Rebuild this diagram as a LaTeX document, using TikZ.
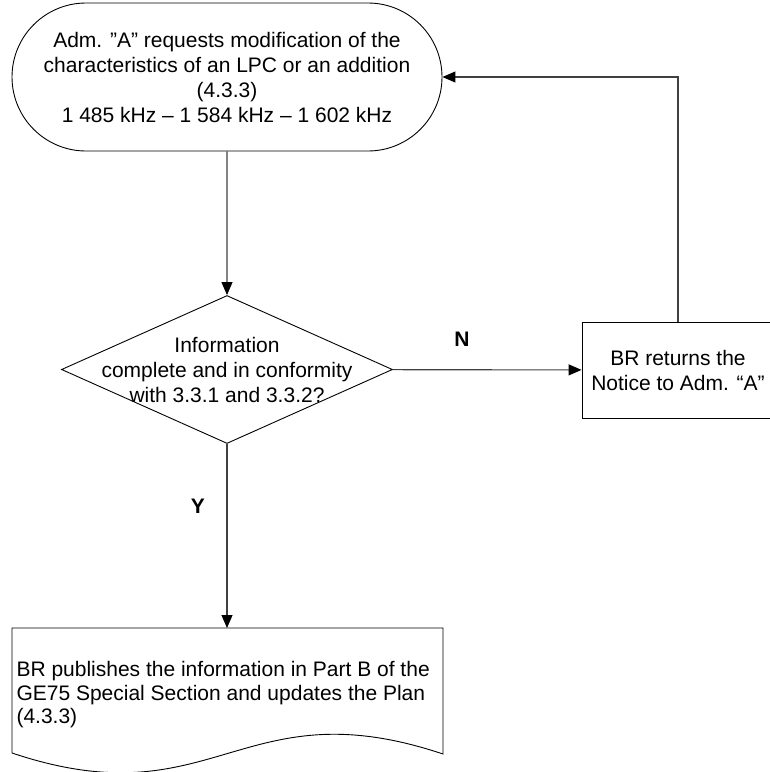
\documentclass[tikz,border=0pt]{standalone}
\usepackage{fontspec}
\setmainfont{Liberation Sans}
\usetikzlibrary{shapes.geometric,shapes.misc,arrows.meta}
\begin{document}
\begin{tikzpicture}[x=1pt,y=-1pt,
  every node/.style={font=\fontsize{21}{25}\selectfont},
  term/.style={draw,line width=0.9pt,rounded rectangle,minimum width=430pt,minimum height=148pt,inner sep=0pt,align=center},
  decision/.style={draw,line width=0.9pt,diamond,minimum width=331pt,minimum height=148pt,inner sep=0pt},
  process/.style={draw,line width=0.9pt,rectangle,minimum width=192pt,minimum height=96pt,inner sep=0pt,align=center},
  line/.style={draw=black!75,line width=1.1pt},
  arr/.style={line,-{Triangle[length=13pt,width=11pt,black]}},
  yn/.style={font=\fontsize{21}{25}\selectfont\bfseries}]
\useasboundingbox (0,0) rectangle (770,772);

\node[term] (request) at (227,77) {Adm. ''A'' requests modification of the\\characteristics of an LPC or an addition\\(4.3.3)\\1 485 kHz -- 1 584 kHz -- 1 602 kHz};
\node[decision] (check) at (227,369.5) {};
\node[align=center] (checktext) at (check.center) {Information\\complete and in conformity\\with 3.3.1 and 3.3.2?};
\node[process] (return) at (678,370) {BR returns the\\Notice to Adm. ``A''};

% document shape
\draw[line width=0.9pt] (12,628) -- (443,628) -- (443,754) .. controls (240,686) and (215,821) .. (12,753) -- cycle;
\coordinate (doctop) at (227,628);
\node[anchor=west,align=left,font=\fontsize{21}{23.5}\selectfont] (publish) at (13,695) {BR publishes the information in Part B of the\\GE75 Special Section and updates the Plan\\(4.3.3)};

\draw[arr] (request) -- (check);
\draw[arr] (check) -- (return);
\draw[arr] (return.north) |- (request.east);
\draw[arr] (check.south) -- (doctop);

\node[yn] (no) at (462,339) {N};
\node[yn] (yes) at (198,506) {Y};
\end{tikzpicture}
\end{document}
